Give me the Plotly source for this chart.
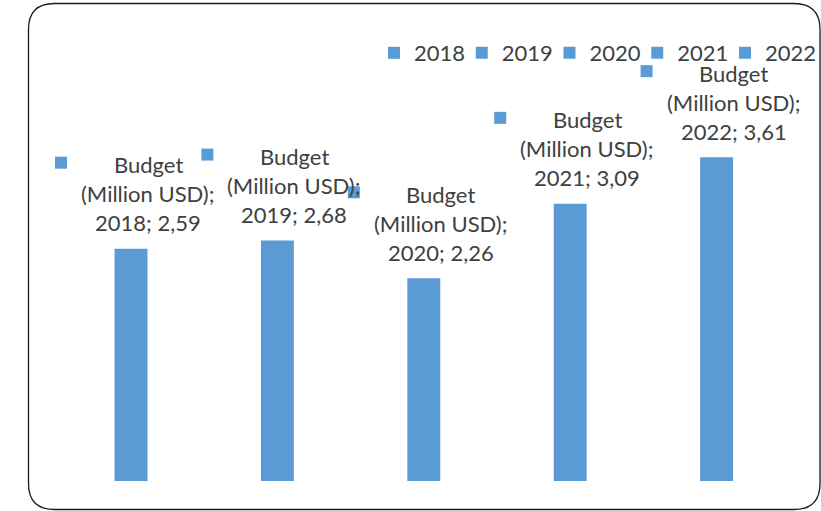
import plotly.graph_objects as go

years = ["2018", "2019", "2020", "2021", "2022"]
budget = [2.59, 2.68, 2.26, 3.09, 3.61]
label_prefix = ["Budget", "(Million USD);"]
value_labels = ["2,59", "2,68", "2,26", "3,09", "3,61"]

BAR_COLOR = "#5B9BD5"
TEXT_COLOR = "#404040"
FONT = "Lato"
W, H = 821, 511
ML, MR, MT, MB = 40, 31, 60, 30
PW, PH = W - ML - MR, H - MT - MB
PX_PER_UNIT = 89.7
CAT_STEP_PX, FIRST_CAT_PX = 146.4, 131
LEGEND_X0, LEGEND_STEP, LEGEND_Y = 390, 87.75, 53

x_lo = -(FIRST_CAT_PX - ML) / CAT_STEP_PX
x_hi = x_lo + PW / CAT_STEP_PX


def P(px, py):
    return ((px - ML) / PW, (H - MB - py) / PH)


fig = go.Figure()
legend_layouts = {}
for i, (yr, v) in enumerate(zip(years, budget)):
    lname = "legend" if i == 0 else f"legend{i + 1}"
    fig.add_trace(go.Bar(x=[yr], y=[v], name=yr, legend=lname,
                         marker=dict(color=BAR_COLOR, line=dict(width=0)),
                         width=0.225, hoverinfo="skip"))
    lx, ly = P(LEGEND_X0 + LEGEND_STEP * i - 16, LEGEND_Y)
    legend_layouts[lname] = dict(orientation="h", x=lx, y=ly, xanchor="left", yanchor="middle",
                                 font=dict(family=FONT, size=22, color=TEXT_COLOR),
                                 itemwidth=30, bgcolor="rgba(0,0,0,0)")

annotations = []
shapes = []
for idx, (yr, v, vl) in enumerate(zip(years, budget, value_labels)):
    lines = label_prefix + [f"{yr}; {vl}"]
    for i, ln in enumerate(lines):
        annotations.append(dict(x=idx, y=v, xref="x", yref="y", text=ln, showarrow=False,
                                xanchor="center", yanchor="middle", xshift=17, yshift=84 - 29 * i,
                                font=dict(family=FONT, size=22, color=TEXT_COLOR)))
    shapes.append(dict(type="rect", xref="x", yref="y", xsizemode="pixel", ysizemode="pixel",
                       xanchor=idx, yanchor=v, x0=-76, x1=-64, y0=80, y1=92,
                       fillcolor=BAR_COLOR, line=dict(width=0)))


def frame_path(x0, y0, x1, y1, r):
    def pt(px, py):
        a, b = P(px, py)
        return f"{a:.5f},{b:.5f}"
    d = f"M{pt(x0 + r, y0)} L{pt(x1 - r, y0)} Q{pt(x1, y0)} {pt(x1, y0 + r)} "
    d += f"L{pt(x1, y1 - r)} Q{pt(x1, y1)} {pt(x1 - r, y1)} "
    d += f"L{pt(x0 + r, y1)} Q{pt(x0, y1)} {pt(x0, y1 - r)} "
    d += f"L{pt(x0, y0 + r)} Q{pt(x0, y0)} {pt(x0 + r, y0)} Z"
    return d


shapes.append(dict(type="path", xref="paper", yref="paper", path=frame_path(28.5, 3.5, 820, 509.5, 26),
                   line=dict(color="#1a1a1a", width=1.3), fillcolor="rgba(0,0,0,0)", layer="above"))

fig.update_layout(
    width=W, height=H,
    margin=dict(l=ML, r=MR, t=MT, b=MB, autoexpand=False),
    paper_bgcolor="white", plot_bgcolor="white",
    barmode="overlay",
    showlegend=True,
    xaxis=dict(type="category", showticklabels=False, showgrid=False, zeroline=False,
               showline=False, ticks="", range=[x_lo, x_hi]),
    yaxis=dict(range=[0, PH / PX_PER_UNIT], showticklabels=False, showgrid=False,
               zeroline=False, showline=False, ticks=""),
    annotations=annotations,
    shapes=shapes,
    font=dict(family=FONT, color=TEXT_COLOR),
    **legend_layouts,
)
fig.write_html("out.html", config={"displayModeBar": False},
               post_script="document.body.style.margin='0';document.body.style.overflow='hidden';")
